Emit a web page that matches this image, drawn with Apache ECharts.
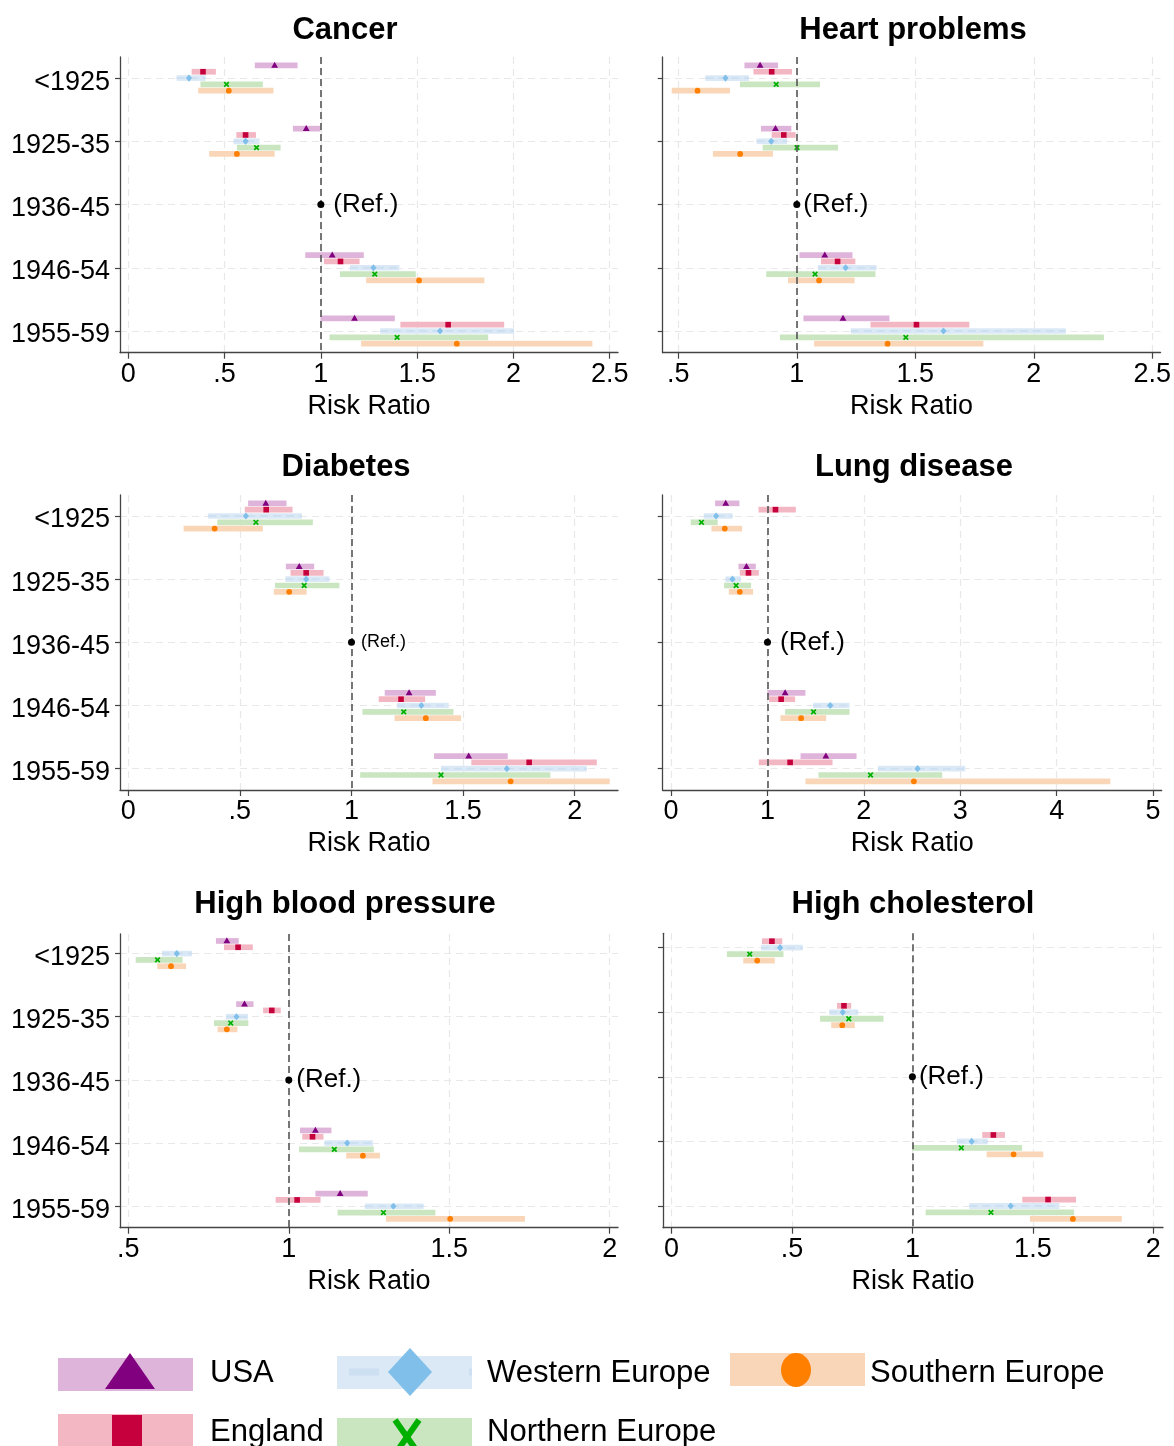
<!DOCTYPE html>
<html><head><meta charset="utf-8">
<script src="https://cdn.jsdelivr.net/npm/echarts@6/dist/echarts.min.js"></script>
<style>html,body{margin:0;padding:0;background:#fff}#c{width:1174px;height:1446px}</style>
</head><body><div id="c"></div>
<script>
// ---------------- DATA ----------------
const cohorts = ['<1925', '1925-35', '1936-45', '1946-54', '1955-59'];
const countries = ['USA', 'England', 'Western Europe', 'Northern Europe', 'Southern Europe'];
const refValue = 1;
const refCohort = '1936-45';
const refLabel = '(Ref.)';
const xTitle = 'Risk Ratio';

// each entry: [risk ratio, lower CI, upper CI] per cohort (null = reference / not estimated)
const cancer_USA     = [[0.760,0.657,0.879],[0.924,0.855,0.998],null,[1.059,0.919,1.223],[1.175,0.998,1.384]];
const cancer_England = [[0.388,0.329,0.455],[0.609,0.561,0.663],null,[1.102,1.016,1.201],[1.661,1.413,1.952]];
const cancer_West    = [[0.315,0.251,0.401],[0.609,0.547,0.682],null,[1.273,1.151,1.408],[1.619,1.308,2.003]];
const cancer_North   = [[0.510,0.375,0.699],[0.666,0.564,0.791],null,[1.280,1.099,1.493],[1.396,1.045,1.869]];
const cancer_South   = [[0.522,0.363,0.754],[0.564,0.420,0.760],null,[1.510,1.235,1.849],[1.706,1.209,2.410]];

const heart_USA      = [[0.845,0.779,0.921],[0.910,0.849,0.977],null,[1.118,1.011,1.235],[1.195,1.028,1.391]];
const heart_England  = [[0.894,0.817,0.980],[0.945,0.894,0.995],null,[1.172,1.102,1.247],[1.505,1.311,1.728]];
const heart_West     = [[0.699,0.614,0.798],[0.892,0.830,0.959],null,[1.206,1.089,1.336],[1.619,1.228,2.135]];
const heart_North    = [[0.913,0.760,1.098],[1.001,0.856,1.174],null,[1.077,0.871,1.332],[1.460,0.929,2.296]];
const heart_South    = [[0.581,0.472,0.718],[0.761,0.646,0.899],null,[1.094,0.963,1.244],[1.383,1.073,1.787]];

const diabetes_USA     = [[0.616,0.537,0.709],[0.766,0.706,0.833],null,[1.258,1.149,1.378],[1.525,1.370,1.700]];
const diabetes_England = [[0.618,0.522,0.736],[0.797,0.727,0.875],null,[1.222,1.122,1.330],[1.796,1.537,2.099]];
const diabetes_West    = [[0.527,0.358,0.778],[0.797,0.704,0.901],null,[1.313,1.204,1.436],[1.696,1.401,2.054]];
const diabetes_North   = [[0.572,0.399,0.827],[0.788,0.657,0.946],null,[1.234,1.049,1.457],[1.401,1.039,1.891]];
const diabetes_South   = [[0.387,0.248,0.603],[0.721,0.652,0.799],null,[1.333,1.193,1.491],[1.713,1.363,2.157]];

const lung_USA     = [[0.567,0.457,0.709],[0.782,0.699,0.879],null,[1.183,1.000,1.394],[1.606,1.343,1.924]];
const lung_England = [[1.083,0.907,1.294],[0.803,0.713,0.910],null,[1.142,1.017,1.287],[1.235,0.910,1.675]];
const lung_West    = [[0.467,0.339,0.637],[0.637,0.564,0.723],null,[1.651,1.474,1.851],[2.557,2.145,3.052]];
const lung_North   = [[0.315,0.204,0.484],[0.675,0.550,0.830],null,[1.478,1.183,1.851],[2.069,1.529,2.813]];
const lung_South   = [[0.557,0.419,0.737],[0.713,0.599,0.851],null,[1.349,1.135,1.609],[2.519,1.394,4.557]];

const hbp_USA     = [[0.807,0.773,0.844],[0.862,0.836,0.890],null,[1.083,1.035,1.133],[1.160,1.083,1.246]];
const hbp_England = [[0.842,0.798,0.888],[0.947,0.920,0.975],null,[1.074,1.042,1.108],[1.026,0.959,1.099]];
const hbp_West    = [[0.651,0.605,0.698],[0.837,0.804,0.873],null,[1.182,1.111,1.262],[1.326,1.237,1.420]];
const hbp_North   = [[0.591,0.523,0.669],[0.819,0.767,0.874],null,[1.142,1.032,1.265],[1.295,1.152,1.457]];
const hbp_South   = [[0.633,0.590,0.680],[0.807,0.778,0.840],null,[1.231,1.179,1.284],[1.503,1.303,1.736]];

const chol_USA     = [null,null,null,null,null];
const chol_England = [[0.417,0.376,0.460],[0.716,0.687,0.746],null,[1.336,1.290,1.384],[1.563,1.456,1.679]];
const chol_West    = [[0.451,0.372,0.545],[0.711,0.655,0.775],null,[1.246,1.185,1.313],[1.408,1.236,1.610]];
const chol_North   = [[0.325,0.230,0.465],[0.736,0.617,0.880],null,[1.203,0.999,1.455],[1.326,1.055,1.671]];
const chol_South   = [[0.356,0.298,0.429],[0.709,0.663,0.761],null,[1.420,1.308,1.543],[1.666,1.488,1.869]];

// x tick labels per panel
const ticks_cancer   = [0, 0.5, 1, 1.5, 2, 2.5];
const ticks_heart    = [0.5, 1, 1.5, 2, 2.5];
const ticks_diabetes = [0, 0.5, 1, 1.5, 2];
const ticks_lung     = [0, 1, 2, 3, 4, 5];
const ticks_hbp      = [0.5, 1, 1.5, 2];
const ticks_chol     = [0, 0.5, 1, 1.5, 2];

const panelTitles = ['Cancer', 'Heart problems', 'Diabetes', 'Lung disease', 'High blood pressure', 'High cholesterol'];

// ---------------- LAYOUT / STYLE ----------------
const FONT = "'Liberation Sans', Arial, Helvetica, sans-serif";
const AXFONT = 27;
const panels = [
  { title: panelTitles[0], series: [cancer_USA, cancer_England, cancer_West, cancer_North, cancer_South], ticks: ticks_cancer,
    grid: {left: 120, top: 57, width: 498, height: 295.7}, xr: [-0.043, 2.543], yr: [0.667, 5.343], titleX: 345, titleY: 30, refFont: 26, refDist: 9, ylabels: true },
  { title: panelTitles[1], series: [heart_USA, heart_England, heart_West, heart_North, heart_South], ticks: ticks_heart,
    grid: {left: 662.7, top: 57, width: 499, height: 295.7}, xr: [0.434, 2.535], yr: [0.667, 5.343], titleX: 913, titleY: 30, refFont: 26, refDist: 3, ylabels: false },
  { title: panelTitles[2], series: [diabetes_USA, diabetes_England, diabetes_West, diabetes_North, diabetes_South], ticks: ticks_diabetes,
    grid: {left: 120, top: 495, width: 498, height: 295}, xr: [-0.037, 2.194], yr: [0.668, 5.337], titleX: 346, titleY: 467, refFont: 18, refDist: 6, ylabels: true },
  { title: panelTitles[3], series: [lung_USA, lung_England, lung_West, lung_North, lung_South], ticks: ticks_lung,
    grid: {left: 662.7, top: 495, width: 499, height: 295}, xr: [-0.087, 5.09], yr: [0.668, 5.337], titleX: 914, titleY: 467, refFont: 26, refDist: 9, ylabels: false },
  { title: panelTitles[4], series: [hbp_USA, hbp_England, hbp_West, hbp_North, hbp_South], ticks: ticks_hbp,
    grid: {left: 120, top: 934, width: 498, height: 293.7}, xr: [0.474, 2.026], yr: [0.69, 5.34], titleX: 345, titleY: 904, refFont: 26, refDist: 4, ylabels: true },
  { title: panelTitles[5], series: [chol_USA, chol_England, chol_West, chol_North, chol_South], ticks: ticks_chol,
    grid: {left: 663, top: 933.3, width: 500, height: 294.4}, xr: [-0.035, 2.04], yr: [0.777, 5.336], titleX: 913, titleY: 904, refFont: 26, refDist: 3, ylabels: false }
];

const styles = [
  { bar: '#dfb4da', mk: '#800080', shape: 'triangle' },
  { bar: '#f3b6c3', mk: '#c5003c', shape: 'square' },
  { bar: '#dbe9f6', mk: '#80bfea', shape: 'diamond', dash: '#cde0f1' },
  { bar: '#c9e6c0', mk: '#00b000', shape: 'x' },
  { bar: '#fad6b9', mk: '#ff7f00', shape: 'circle' }
];

function markerShape(shape, cx, cy, s, color) {
  if (shape === 'triangle') return { type: 'polygon', shape: { points: [[cx, cy - 3.6*s], [cx - 3.4*s, cy + 2.4*s], [cx + 3.4*s, cy + 2.4*s]] }, style: { fill: color } };
  if (shape === 'square') return { type: 'rect', shape: { x: cx - 2.8*s, y: cy - 2.8*s, width: 5.6*s, height: 5.6*s }, style: { fill: color } };
  if (shape === 'diamond') return { type: 'polygon', shape: { points: [[cx, cy - 3.6*s], [cx + 3.1*s, cy], [cx, cy + 3.6*s], [cx - 3.1*s, cy]] }, style: { fill: color } };
  if (shape === 'circle') return { type: 'circle', shape: { cx: cx, cy: cy, r: 2.9*s }, style: { fill: color } };
  // x
  const d = 2.3*s;
  return { type: 'group', children: [
    { type: 'line', shape: { x1: cx - d, y1: cy - d, x2: cx + d, y2: cy + d }, style: { stroke: color, lineWidth: 1.7*s } },
    { type: 'line', shape: { x1: cx - d, y1: cy + d, x2: cx + d, y2: cy - d }, style: { stroke: color, lineWidth: 1.7*s } }
  ]};
}

function makeRender(k) {
  const st = styles[k];
  return function (params, api) {
    const est = api.value(0), row = api.value(1), lo = api.value(2), hi = api.value(3);
    const pe = api.coord([est, row]);
    const pl = api.coord([lo, row]);
    const ph = api.coord([hi, row]);
    const step = Math.abs(api.coord([est, row + 1])[1] - pe[1]);
    const y = pe[1] + (k - 2) * 0.1 * step;
    const h = 0.09 * step;
    const children = [
      { type: 'rect', shape: { x: pl[0], y: y - h / 2, width: ph[0] - pl[0], height: h }, style: { fill: st.bar } }
    ];
    if (st.dash) {
      children.push({ type: 'line', shape: { x1: pl[0], y1: y, x2: ph[0], y2: y }, style: { stroke: st.dash, lineWidth: 2, lineDash: [8, 5] } });
    }
    children.push(markerShape(st.shape, pe[0], y, 1, st.mk));
    return { type: 'group', children: children };
  };
}

function fmtTick(v) {
  if (v === 0) return '0';
  return String(v).replace(/^0\./, '.');
}

const grids = [], xAxes = [], yAxes = [], series = [], graphics = [];
const rowVals = cohorts.map((c, i) => i + 1);
const refRow = cohorts.indexOf(refCohort) + 1;

panels.forEach((p, pi) => {
  grids.push(Object.assign({ containLabel: false }, p.grid));
  xAxes.push({
    gridIndex: pi, type: 'value', min: p.xr[0], max: p.xr[1],
    name: xTitle, nameLocation: 'middle', nameGap: 40,
    nameTextStyle: { fontSize: AXFONT, color: '#000', fontFamily: FONT },
    axisLine: { show: true, onZero: false, lineStyle: { color: '#444', width: 1.3 } },
    axisTick: { show: true, customValues: p.ticks, length: 6, lineStyle: { color: '#444', width: 1.2 } },
    axisLabel: { customValues: p.ticks, formatter: fmtTick, fontSize: AXFONT, color: '#000', margin: 8, fontFamily: FONT },
    splitLine: { show: true, lineStyle: { color: '#e8e8e8', type: [7, 5], width: 1.2 } }
  });
  yAxes.push({
    gridIndex: pi, type: 'value', inverse: true, min: p.yr[0], max: p.yr[1],
    axisLine: { show: true, onZero: false, lineStyle: { color: '#444', width: 1.3 } },
    axisTick: { show: true, customValues: rowVals, length: 5, lineStyle: { color: '#444', width: 1.2 } },
    axisLabel: { show: p.ylabels, customValues: rowVals, formatter: v => '{c|' + cohorts[Math.round(v) - 1] + '}',
      color: '#000', margin: 10,
      rich: { c: { fontSize: AXFONT, color: '#000', fontFamily: FONT, padding: [8, 0, 0, 0] } } },
    splitLine: { show: true, lineStyle: { color: '#e8e8e8', type: [7, 5], width: 1.2 } }
  });
  p.series.forEach((arr, k) => {
    const data = [];
    arr.forEach((r, i) => { if (r) data.push([r[0], i + 1, r[1], r[2]]); });
    series.push({
      type: 'custom', name: countries[k], xAxisIndex: pi, yAxisIndex: pi,
      data: data, encode: { x: [0, 2, 3], y: 1 }, renderItem: makeRender(k), z: 3, silent: true
    });
  });
  series.push({
    type: 'scatter', xAxisIndex: pi, yAxisIndex: pi, z: 10, silent: true,
    data: [[refValue, refRow]], symbol: 'circle', symbolSize: 7, itemStyle: { color: '#000', opacity: 1 },
    label: { show: true, position: 'right', distance: p.refDist, formatter: refLabel, fontSize: p.refFont, color: '#000', opacity: 1, fontFamily: FONT, textBorderWidth: 0 },
    markLine: { silent: true, symbol: ['none', 'none'], label: { show: false },
      lineStyle: { color: '#555', type: [7, 4], width: 1.6, opacity: 1 }, data: [{ xAxis: refValue }] }
  });
  graphics.push({ type: 'text', x: p.titleX, y: p.titleY,
    style: { text: p.title, fontSize: 31, fontWeight: 'bold', fill: '#000', fontFamily: FONT, textAlign: 'center', textVerticalAlign: 'middle' } });
});

// Legend (drawn as graphics)
const legendItems = [
  { k: 0, rx: 58, ry: 1358, tx: 210, ty: 1373 },
  { k: 2, rx: 337, ry: 1356, tx: 487, ty: 1373 },
  { k: 4, rx: 730, ry: 1353, tx: 870, ty: 1373 },
  { k: 1, rx: 58, ry: 1414, tx: 210, ty: 1432 },
  { k: 3, rx: 337, ry: 1418, tx: 487, ty: 1432 }
];
legendItems.forEach(it => {
  const st = styles[it.k];
  const cx = it.rx + 68, cy = it.ry + 16;
  const ch = [{ type: 'rect', shape: { x: it.rx, y: it.ry, width: 135, height: 33 }, style: { fill: st.bar } }];
  if (st.dash) {
    ch.push({ type: 'line', shape: { x1: it.rx, y1: cy, x2: it.rx + 135, y2: cy }, style: { stroke: st.dash, lineWidth: 7, lineDash: [30, 90], lineDashOffset: -12 } });
  }
  if (st.shape === 'triangle') ch.push({ type: 'polygon', shape: { points: [[cx + 4, cy - 21], [cx - 21, cy + 15], [cx + 29, cy + 15]] }, style: { fill: st.mk } });
  else if (st.shape === 'square') ch.push({ type: 'rect', shape: { x: cx - 14, y: it.ry + 1, width: 30, height: 32 }, style: { fill: st.mk } });
  else if (st.shape === 'diamond') ch.push({ type: 'polygon', shape: { points: [[cx + 5, cy - 24], [cx + 27, cy], [cx + 5, cy + 24], [cx - 17, cy]] }, style: { fill: st.mk } });
  else if (st.shape === 'circle') ch.push({ type: 'ellipse', shape: { cx: cx - 2, cy: cy + 1, rx: 15, ry: 17 }, style: { fill: st.mk } });
  else ch.push(
    { type: 'line', shape: { x1: cx - 10, y1: cy - 14, x2: cx + 14, y2: cy + 20 }, style: { stroke: st.mk, lineWidth: 6 } },
    { type: 'line', shape: { x1: cx - 10, y1: cy + 20, x2: cx + 14, y2: cy - 14 }, style: { stroke: st.mk, lineWidth: 6 } }
  );
  ch.push({ type: 'text', x: it.tx, y: it.ty, style: { text: countries[it.k], fontSize: 31, fill: '#000', fontFamily: FONT, textVerticalAlign: 'middle' } });
  graphics.push({ type: 'group', children: ch });
});

const chart = echarts.init(document.getElementById('c'), null, { renderer: 'canvas' });
chart.setOption({
  backgroundColor: '#fff',
  animation: false,
  grid: grids, xAxis: xAxes, yAxis: yAxes, series: series,
  graphic: graphics
});
</script></body></html>
